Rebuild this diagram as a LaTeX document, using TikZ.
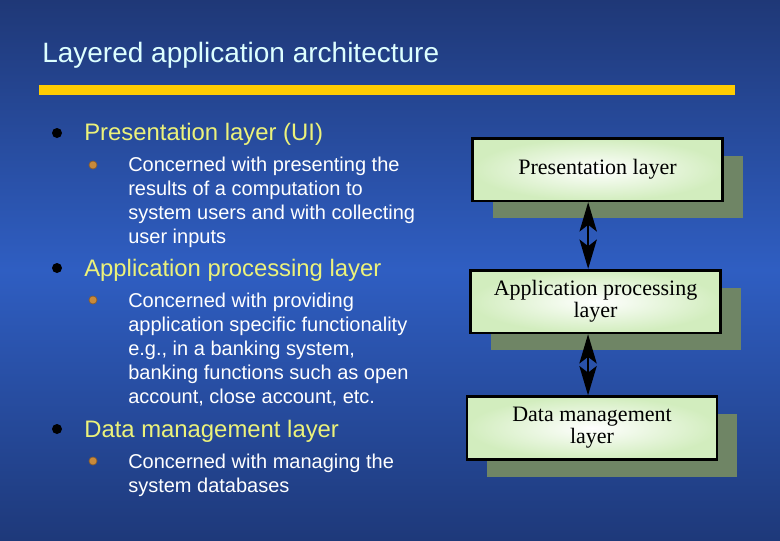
\documentclass[tikz,border=0pt]{standalone}
\usepackage{fontspec}
\setmainfont{Liberation Sans}
\newfontfamily\boxfont{Liberation Serif}
\usetikzlibrary{arrows.meta}
\usetikzlibrary{shadows}

\definecolor{bgdark}{HTML}{1F3877}
\definecolor{bglight}{HTML}{2F5EC2}
\definecolor{bgbottom}{HTML}{1E397A}
\definecolor{baryellow}{HTML}{FFCC00}
\definecolor{titlecyan}{HTML}{DDFFFF}
\definecolor{headyellow}{HTML}{ECF27A}
\definecolor{layergreen}{HTML}{D2EDBE}
\definecolor{shadowgreen}{HTML}{6F8565}
\definecolor{dotorange}{HTML}{C98A3A}
\definecolor{dotbrown}{HTML}{8B5E2B}

\tikzset{
    heading/.style={anchor=base west, inner sep=0pt, text=headyellow,
        font=\fontsize{17.9}{20}\selectfont},
    detail/.style={anchor=base west, inner sep=0pt, text=white, align=left,
        font=\fontsize{15}{18}\selectfont},
    layer/.style={draw=black, line width=2pt, inner color=white, outer color=layergreen,
        minimum width=187.5pt, minimum height=47pt, align=center,
        font=\boxfont\fontsize{16.5}{16.5}\selectfont,
        drop shadow={shadow xshift=15pt, shadow yshift=-13pt, fill=shadowgreen, opacity=1}},
    link/.style={{Stealth[length=22pt,width=13pt,inset=5pt]}-{Stealth[length=22pt,width=13pt,inset=5pt]},
        line width=1.5pt}
}

\begin{document}
\begin{tikzpicture}[x=0.75pt, y=-0.75pt]
    % Background and frame
    \useasboundingbox (0,0) rectangle (780,540);
    \shade[top color=bgdark, bottom color=bgbottom, middle color=bglight] (0,0) rectangle (780,540);

    % Title and the yellow rule under it
    \node[anchor=base west, inner sep=0pt, text=titlecyan, font=\fontsize{21}{24}\selectfont]
        (title) at (42,62) {Layered application architecture};
    \fill[baryellow] (39,85) rectangle (735,95);

    % Draw the bullets
    \foreach \y in {133,268,429}
    {
        \fill[black] (57,\y) circle (5);
    }
    \foreach \y in {165,300,461}
    {
        \filldraw[fill=dotorange, draw=dotbrown, line width=0.5pt] (93,\y) circle (4);
    }

    % The three layers, as text (detail nodes sit on their last line)
    \node[heading] (pres) at (84,140) {Presentation layer (UI)};
    \node[detail] (presnote) at (128,243) {Concerned with presenting the\\results of a computation to\\system users and with collecting\\user inputs};

    \node[heading] (appl) at (84,276) {Application processing layer};
    \node[detail] (applnote) at (128,403) {Concerned with providing\\application specific functionality\\e.g., in a banking system,\\banking functions such as open\\account, close account, etc.};

    \node[heading] (data) at (84,437) {Data management layer};
    \node[detail] (datanote) at (128,492) {Concerned with managing the\\system databases};

    % The three layers, as boxes
    \node[layer] (p1) at (597.5,169.5) {Presentation layer};
    \node[layer] (p2) at (595.5,301.5) {Application processing\\layer};
    \node[layer] (p3) at (592,428) {Data management\\layer};

    % Finally the links between the layers
    \coordinate (a1) at ([xshift=-7pt]p1.south);
    \draw[link] (a1) -- (a1 |- p2.north);
    \coordinate (a2) at ([xshift=-5.6pt]p2.south);
    \draw[link] (a2) -- (a2 |- p3.north);
\end{tikzpicture}
\end{document}
